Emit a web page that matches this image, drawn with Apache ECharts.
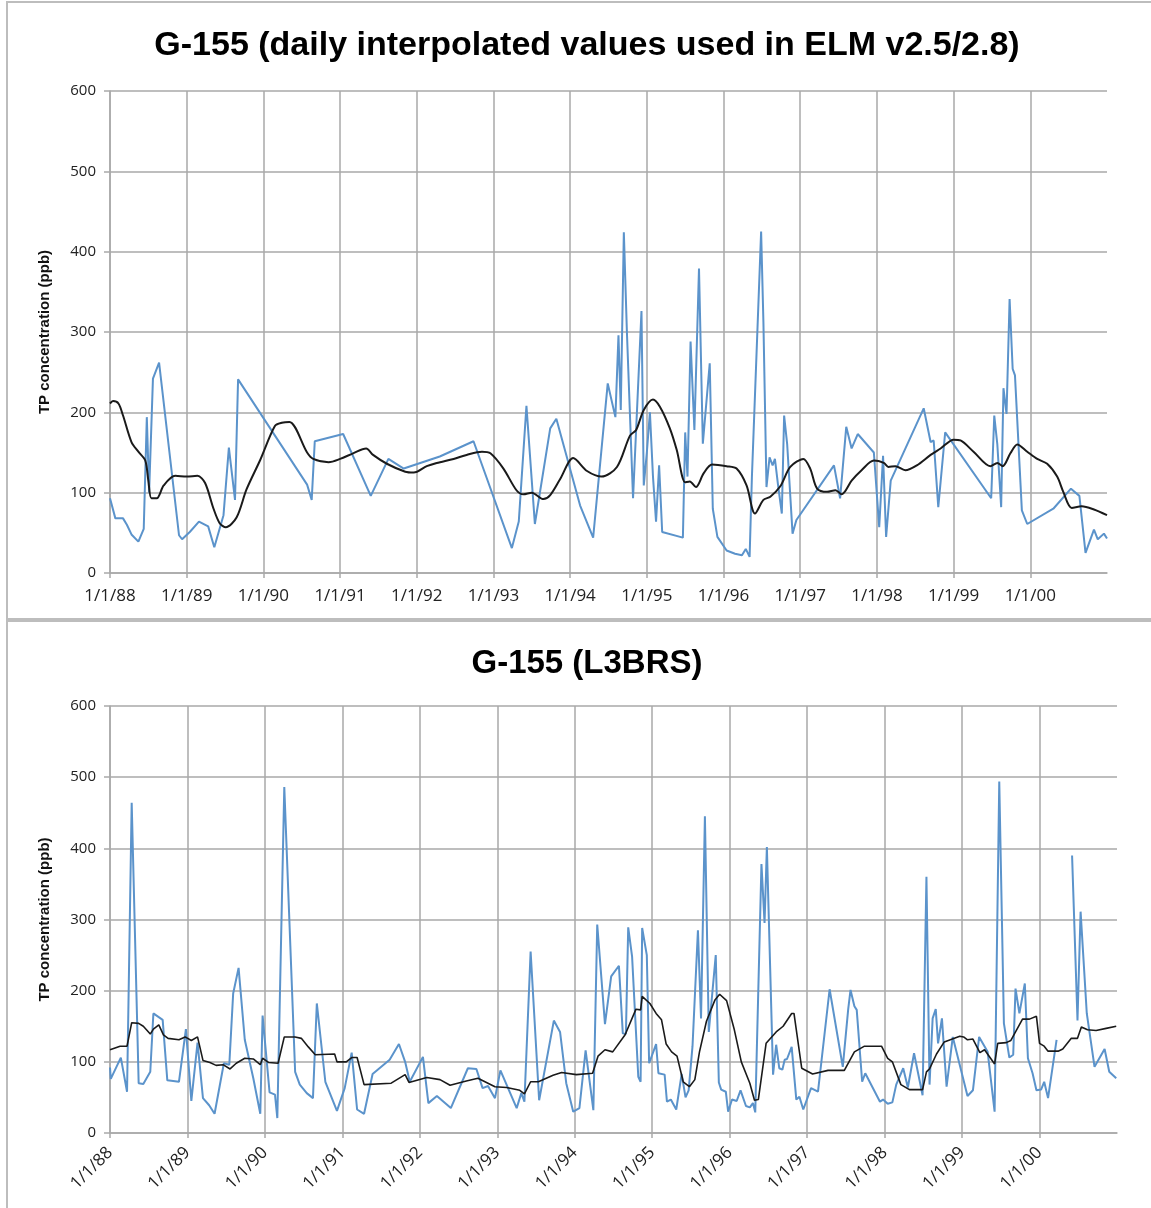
<!DOCTYPE html>
<html>
<head>
<meta charset="utf-8">
<script src="https://cdn.jsdelivr.net/npm/echarts@6/dist/echarts.min.js"></script>
<style>
  * { margin: 0; padding: 0; }
  body { background: #fff; }
  #chart { width: 1151px; height: 1208px; }
</style>
</head>
<body>
<div id="chart"></div>
<script>
// x values are decimal years
const yearLabels = ["1/1/88", "1/1/89", "1/1/90", "1/1/91", "1/1/92", "1/1/93", "1/1/94",
  "1/1/95", "1/1/96", "1/1/97", "1/1/98", "1/1/99", "1/1/00"];

// top: daily interpolated (blue) + moving average (black)
const topBlueYears = [1988.00, 1988.07, 1988.17, 1988.22, 1988.28, 1988.37, 1988.44, 1988.48, 1988.51, 1988.56,
  1988.64, 1988.90, 1988.94, 1989.04, 1989.16, 1989.28, 1989.36, 1989.48, 1989.55, 1989.63,
  1989.67, 1990.57, 1990.63, 1990.67, 1991.04, 1991.40, 1991.63, 1991.83, 1992.30, 1992.74,
  1993.24, 1993.33, 1993.43, 1993.54, 1993.74, 1993.82, 1994.13, 1994.30, 1994.49, 1994.59,
  1994.63, 1994.66, 1994.70, 1994.74, 1994.82, 1994.93, 1994.96, 1995.00, 1995.04, 1995.08,
  1995.12, 1995.16, 1995.20, 1995.47, 1995.50, 1995.53, 1995.57, 1995.62, 1995.68, 1995.73,
  1995.82, 1995.86, 1995.92, 1996.04, 1996.15, 1996.24, 1996.29, 1996.34, 1996.37, 1996.49,
  1996.52, 1996.56, 1996.60, 1996.64, 1996.67, 1996.71, 1996.76, 1996.79, 1996.83, 1996.90,
  1996.95, 1997.44, 1997.52, 1997.60, 1997.67, 1997.75, 1997.96, 1998.03, 1998.08, 1998.12,
  1998.18, 1998.61, 1998.70, 1998.74, 1998.80, 1998.89, 1999.49, 1999.53, 1999.57, 1999.62,
  1999.65, 1999.69, 1999.73, 1999.77, 1999.80, 1999.89, 1999.96, 2000.30, 2000.53, 2000.64,
  2000.72, 2000.83, 2000.88, 2000.96, 2001.00];
const topBlueVals = [93, 68, 68, 60, 48, 39, 55, 194, 100, 242,
  262, 47, 42, 51, 64, 58, 32, 72, 156, 91,
  241, 110, 91, 164, 173, 96, 142, 130, 145, 164,
  31, 64, 208, 61, 180, 192, 84, 44, 236, 194,
  296, 203, 424, 300, 93, 326, 109, 150, 200, 120,
  64, 134, 51, 44, 175, 120, 288, 178, 379, 161,
  261, 80, 45, 28, 24, 22, 30, 20, 120, 425,
  312, 107, 144, 134, 142, 110, 74, 196, 160, 49,
  66, 134, 93, 182, 155, 173, 150, 57, 146, 45,
  115, 205, 163, 165, 82, 175, 93, 196, 160, 82,
  230, 198, 341, 254, 246, 78, 61, 80, 105, 96,
  25, 54, 42, 49, 43];
const topAvgYears = [1988.00, 1988.04, 1988.11, 1988.17, 1988.28, 1988.37, 1988.46, 1988.50, 1988.54, 1988.61,
  1988.70, 1988.85, 1989.00, 1989.14, 1989.24, 1989.35, 1989.43, 1989.51, 1989.65, 1989.78,
  1989.96, 1990.15, 1990.24, 1990.34, 1990.57, 1990.65, 1990.85, 1991.00, 1991.17, 1991.34,
  1991.43, 1991.61, 1991.85, 1991.96, 1992.13, 1992.26, 1992.48, 1992.65, 1992.85, 1992.96,
  1993.13, 1993.30, 1993.39, 1993.50, 1993.65, 1993.74, 1993.87, 1994.04, 1994.22, 1994.41,
  1994.61, 1994.78, 1994.86, 1994.96, 1995.08, 1995.17, 1995.30, 1995.39, 1995.50, 1995.56,
  1995.64, 1995.74, 1995.85, 1996.04, 1996.17, 1996.30, 1996.41, 1996.52, 1996.61, 1996.74,
  1996.87, 1997.04, 1997.13, 1997.22, 1997.35, 1997.46, 1997.54, 1997.67, 1997.80, 1997.96,
  1998.09, 1998.15, 1998.24, 1998.37, 1998.52, 1998.70, 1998.83, 1999.00, 1999.09, 1999.26,
  1999.48, 1999.57, 1999.64, 1999.74, 1999.83, 1999.96, 2000.09, 2000.22, 2000.35, 2000.43,
  2000.54, 2000.67, 2000.83, 2001.00];
const topAvgVals = [211, 214, 211, 196, 163, 151, 140, 115, 93, 93,
  109, 121, 120, 121, 112, 80, 62, 57, 69, 104,
  141, 183, 187, 188, 150, 142, 138, 142, 149, 155,
  147, 136, 126, 125, 133, 137, 142, 147, 151, 149,
  130, 103, 98, 100, 92, 97, 117, 143, 127, 120,
  132, 171, 178, 203, 216, 207, 180, 153, 113, 114,
  107, 124, 135, 133, 130, 109, 74, 91, 95, 108,
  132, 142, 130, 105, 101, 103, 98, 115, 128, 140,
  137, 132, 133, 128, 134, 147, 155, 166, 165, 151,
  133, 137, 133, 149, 160, 151, 142, 136, 120, 101,
  81, 83, 79, 72];

// bottom: L3BRS samples (blue) + moving average (black); null = gap
const botBlueYears = [1988.00, 1988.01, 1988.14, 1988.22, 1988.28, 1988.37, 1988.43, 1988.52, 1988.56, 1988.68,
  1988.74, 1988.89, 1988.98, 1989.05, 1989.13, 1989.20, 1989.28, 1989.35, 1989.47, 1989.54,
  1989.59, 1989.66, 1989.74, 1989.85, 1989.94, 1989.97, 1990.06, 1990.13, 1990.16, 1990.25,
  1990.39, 1990.45, 1990.54, 1990.62, 1990.67, 1990.78, 1990.93, 1991.03, 1991.12, 1991.19,
  1991.28, 1991.39, 1991.61, 1991.73, 1991.81, 1991.87, 1992.04, 1992.11, 1992.22, 1992.40,
  1992.62, 1992.73, 1992.81, 1992.88, 1992.97, 1993.04, 1993.25, 1993.31, 1993.35, 1993.43,
  1993.54, 1993.73, 1993.81, 1993.89, 1993.98, 1994.06, 1994.14, 1994.24, 1994.29, 1994.39,
  1994.47, 1994.57, 1994.62, 1994.66, 1994.69, 1994.74, 1994.82, 1994.85, 1994.87, 1994.93,
  1994.96, 1995.05, 1995.08, 1995.16, 1995.19, 1995.24, 1995.31, 1995.38, 1995.43, 1995.47,
  1995.52, 1995.59, 1995.63, 1995.68, 1995.73, 1995.82, 1995.86, 1995.89, 1995.95, 1995.98,
  1996.03, 1996.09, 1996.14, 1996.21, 1996.26, 1996.30, 1996.33, 1996.41, 1996.45, 1996.48,
  1996.56, 1996.60, 1996.64, 1996.68, 1996.71, 1996.74, 1996.80, 1996.86, 1996.90, 1996.95,
  1997.05, 1997.14, 1997.29, 1997.46, 1997.53, 1997.56, 1997.61, 1997.64, 1997.71, 1997.75,
  1997.94, 1997.98, 1998.04, 1998.10, 1998.15, 1998.24, 1998.30, 1998.38, 1998.49, 1998.54,
  1998.58, 1998.62, 1998.66, 1998.69, 1998.74, 1998.80, 1998.88, 1999.07, 1999.14, 1999.22,
  1999.33, 1999.42, 1999.48, 1999.54, 1999.61, 1999.66, 1999.69, 1999.74, 1999.81, 1999.85,
  1999.91, 1999.96, 2000.02, 2000.06, 2000.11, 2000.22, 2000.32, 2000.42, 2000.49, 2000.53,
  2000.61, 2000.71, 2000.84, 2000.90, 2000.99];
const botBlueVals = [92, 76, 106, 58, 464, 70, 69, 86, 168, 159,
  74, 72, 146, 45, 127, 49, 39, 27, 98, 96,
  196, 232, 131, 77, 27, 165, 57, 54, 21, 486,
  86, 68, 56, 49, 182, 72, 31, 63, 113, 33,
  27, 83, 103, 125, 100, 72, 107, 42, 52, 35,
  91, 90, 63, 66, 49, 88, 35, 56, 44, 255,
  46, 158, 142, 70, 30, 35, 116, 32, 293, 153,
  220, 235, 140, 139, 289, 248, 79, 72, 288, 250,
  98, 125, 84, 82, 44, 47, 33, 83, 50, 60,
  122, 285, 161, 445, 142, 250, 71, 61, 58, 30,
  47, 45, 60, 38, 36, 42, 29, 378, 295, 402,
  82, 124, 91, 89, 103, 104, 121, 47, 51, 33,
  63, 58, 202, 93, 174, 201, 178, 173, 72, 84,
  44, 47, 41, 43, 68, 91, 64, 112, 53, 360,
  68, 161, 174, 126, 161, 65, 135, 52, 60, 135,
  114, 30, 494, 154, 106, 110, 203, 168, 210, 105,
  84, 60, 61, 72, 49, 131, null, 390, 158, 311,
  168, 93, 118, 86, 77];
const botAvgYears = [1988.00, 1988.13, 1988.22, 1988.28, 1988.37, 1988.43, 1988.52, 1988.56, 1988.63, 1988.69,
  1988.75, 1988.89, 1988.97, 1989.05, 1989.13, 1989.20, 1989.29, 1989.37, 1989.46, 1989.55,
  1989.63, 1989.74, 1989.85, 1989.94, 1989.97, 1990.05, 1990.17, 1990.25, 1990.39, 1990.47,
  1990.56, 1990.65, 1990.90, 1990.93, 1991.05, 1991.12, 1991.19, 1991.28, 1991.63, 1991.81,
  1991.86, 1992.09, 1992.26, 1992.39, 1992.60, 1992.75, 1992.97, 1993.12, 1993.29, 1993.35,
  1993.43, 1993.53, 1993.72, 1993.83, 1994.02, 1994.23, 1994.30, 1994.39, 1994.49, 1994.65,
  1994.79, 1994.85, 1994.87, 1994.97, 1995.05, 1995.12, 1995.18, 1995.25, 1995.32, 1995.40,
  1995.48, 1995.55, 1995.61, 1995.70, 1995.81, 1995.87, 1995.96, 1996.06, 1996.15, 1996.26,
  1996.32, 1996.37, 1996.47, 1996.60, 1996.69, 1996.80, 1996.83, 1996.93, 1997.07, 1997.27,
  1997.48, 1997.61, 1997.74, 1997.96, 1998.04, 1998.10, 1998.21, 1998.32, 1998.49, 1998.54,
  1998.58, 1998.67, 1998.77, 1998.97, 1999.02, 1999.07, 1999.14, 1999.23, 1999.29, 1999.42,
  1999.46, 1999.57, 1999.63, 1999.78, 1999.87, 1999.96, 2000.00, 2000.06, 2000.11, 2000.24,
  2000.30, 2000.41, 2000.49, 2000.54, 2000.62, 2000.73, 2000.86, 2000.99];
const botAvgVals = [117, 122, 122, 155, 154, 150, 139, 146, 152, 138,
  133, 131, 135, 130, 135, 102, 99, 95, 96, 90,
  98, 105, 104, 96, 105, 99, 98, 135, 135, 133,
  121, 110, 111, 100, 100, 106, 106, 68, 70, 82,
  71, 78, 75, 67, 73, 77, 65, 64, 60, 55,
  72, 72, 81, 85, 82, 84, 108, 117, 114, 138,
  174, 173, 192, 182, 168, 159, 125, 114, 108, 72,
  65, 75, 114, 157, 187, 195, 186, 145, 100, 70,
  46, 47, 126, 142, 150, 168, 168, 91, 83, 88,
  88, 114, 122, 122, 105, 100, 68, 61, 61, 86,
  90, 111, 128, 136, 135, 131, 132, 113, 117, 97,
  126, 127, 130, 160, 160, 164, 126, 122, 115, 115,
  118, 133, 133, 149, 145, 144, 147, 150];

const pairs = (xs, ys) => xs.map((x, i) => [x, ys[i] == null ? "-" : ys[i]]);

const gridColor = "#a9a9a9";
const fontFam = "Liberation Sans, Arial, sans-serif";
const tickFam = "Open Sans, Liberation Sans, sans-serif";

function xAxisFor(gridIndex, rotate) {
  return {
    type: "value",
    gridIndex: gridIndex,
    min: 1988,
    max: 2001,
    interval: 1,
    axisLine: { lineStyle: { color: gridColor, width: 1.5 } },
    axisTick: { show: true, length: 5, lineStyle: { color: gridColor, width: 1.5 } },
    splitLine: { show: true, showMaxLine: false, lineStyle: { color: gridColor, width: 1.5 } },
    axisLabel: {
      fontSize: 17,
      fontFamily: tickFam,
      color: "#222",
      margin: rotate ? 17 : 15,
      rotate: rotate,
      showMaxLabel: false,
      formatter: v => yearLabels[Math.round(v - 1988)] || ""
    }
  };
}

function yAxisFor(gridIndex) {
  return {
    type: "value",
    gridIndex: gridIndex,
    min: 0,
    max: 600,
    interval: 100,
    name: "TP concentration (ppb)",
    nameLocation: "middle",
    nameGap: 58,
    nameTextStyle: { fontSize: 15, fontWeight: "bold", fontFamily: fontFam, color: "#111" },
    axisLine: { show: true, lineStyle: { color: gridColor, width: 1.5 } },
    axisTick: { show: true, length: 6, lineStyle: { color: gridColor, width: 1.5 } },
    splitLine: { lineStyle: { color: gridColor, width: 1.5 } },
    axisLabel: { fontSize: 15, fontFamily: tickFam, color: "#222", margin: 14 }
  };
}

let chart = echarts.init(document.getElementById("chart"));
let option = {
  animation: false,
  backgroundColor: "#fff",
  title: [
    {
      text: "G-155 (daily interpolated values used in ELM v2.5/2.8)",
      left: 582, top: 24, textAlign: "center",
      textStyle: { fontSize: 34, fontWeight: "bold", fontFamily: fontFam, color: "#000" }
    },
    {
      text: "G-155 (L3BRS)",
      left: 582, top: 642, textAlign: "center",
      textStyle: { fontSize: 33, fontWeight: "bold", fontFamily: fontFam, color: "#000" }
    }
  ],
  graphic: [
    // panel frames
    { type: "rect", shape: { x: 7, y: 2, width: 1150, height: 617 }, style: { fill: "none", stroke: "#bdbdbd", lineWidth: 2 }, silent: true },
    { type: "rect", shape: { x: 7, y: 621, width: 1150, height: 600 }, style: { fill: "none", stroke: "#bdbdbd", lineWidth: 2 }, silent: true }
  ],
  grid: [
    { left: 110, top: 91, right: 44, height: 482 },
    { left: 110, top: 706, right: 34, height: 427 }
  ],
  xAxis: [xAxisFor(0, 0), xAxisFor(1, 45)],
  yAxis: [yAxisFor(0), yAxisFor(1)],
  series: [
    {
      type: "line", xAxisIndex: 0, yAxisIndex: 0, showSymbol: false,
      lineStyle: { color: "#5b93cb", width: 2 },
      data: pairs(topBlueYears, topBlueVals)
    },
    {
      type: "line", xAxisIndex: 0, yAxisIndex: 0, showSymbol: false, smooth: 0.3,
      lineStyle: { color: "#1a1a1a", width: 2 },
      data: pairs(topAvgYears, topAvgVals)
    },
    {
      type: "line", xAxisIndex: 1, yAxisIndex: 1, showSymbol: false,
      lineStyle: { color: "#5b93cb", width: 2 },
      data: pairs(botBlueYears, botBlueVals)
    },
    {
      type: "line", xAxisIndex: 1, yAxisIndex: 1, showSymbol: false,
      lineStyle: { color: "#1a1a1a", width: 1.6 },
      data: pairs(botAvgYears, botAvgVals)
    }
  ]
};
chart.setOption(option);
</script>
</body>
</html>
